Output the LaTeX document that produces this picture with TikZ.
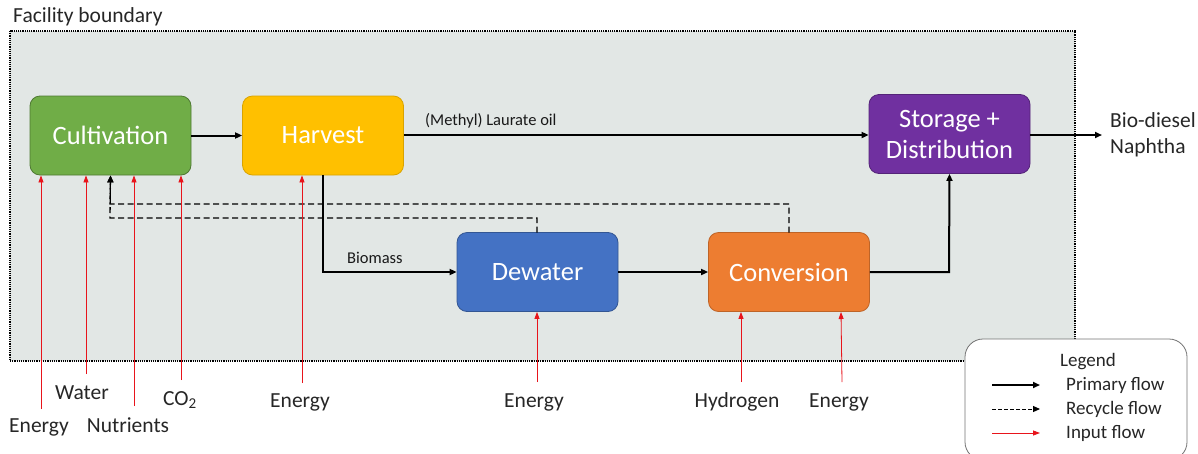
\documentclass[tikz,border=0pt]{standalone}
\usepackage{fontspec}
\setmainfont{Carlito}
\usetikzlibrary{arrows.meta}
\definecolor{bgfill}{HTML}{E2E7E5}
\definecolor{cgreen}{HTML}{70AD47}
\definecolor{cyellow}{HTML}{FFC000}
\definecolor{cpurple}{HTML}{7030A0}
\definecolor{cblue}{HTML}{4472C4}
\definecolor{corange}{HTML}{ED7D31}
\definecolor{inred}{HTML}{E8141B}
\tikzset{
  stage/.style={rectangle, rounded corners=10pt, minimum width=161pt, minimum height=79pt, text=white, font=\fontsize{26.5}{31}\selectfont, align=center, line width=0.8pt, inner sep=0pt},
  primary/.style={line width=2pt, -{Triangle[length=7pt,width=6pt]}},
  recycle/.style={line width=1.3pt, dash pattern=on 6pt off 3.5pt, -{Triangle[length=7pt,width=6pt]}},
  input/.style={line width=0.8pt, draw=inred, -{Triangle[length=7pt,width=5pt]}},
  lbl/.style={font=\fontsize{21.5}{26}\selectfont, inner sep=0pt, text=black!85},
  leg/.style={font=\fontsize{19}{22}\selectfont, inner sep=0pt, text=black!85},
  small/.style={font=\fontsize{16.5}{18}\selectfont, inner sep=0pt, text=black!90},
}
\begin{document}
\begin{tikzpicture}[x=1pt,y=-1pt]
\useasboundingbox (0,0) rectangle (1198,453);
% facility boundary
\draw[fill=bgfill, line width=1.2pt, densely dotted] (10,31) rectangle (1075,361);
\node[lbl, anchor=west] (fb) at (13,17) {Facility boundary};
% stages
\node[stage, fill=cgreen, draw=cgreen!70!black] (cult) at (110.5,135.5) {Cultivation};
\node[stage, fill=cyellow, draw=cyellow!85!black] (harv) at (323,135.5) {Harvest};
\node[stage, fill=cpurple, draw=cpurple!75!black] (stor) at (949.5,134) {Storage +\\Distribution};
\node[stage, fill=cblue, draw=cblue!75!black] (dew) at (537.5,272) {Dewater};
\node[stage, fill=corange, draw=corange!80!black] (conv) at (789,272) {Conversion};
% primary flows
\draw[primary] (cult.east) -- (harv.west);
\draw[primary] (harv.east |- 0,135) -- (stor.west |- 0,135);
\node[small, anchor=west] (lau) at (425,121) {(Methyl) Laurate oil};
\coordinate (out) at (1102,135);
\draw[primary] (stor.east |- out) -- (out);
\node[lbl, anchor=west, align=left] (prod) at (1110,135) {Bio-diesel\\Naphtha};
\draw[primary] (harv.south) -- (323,272) -- (dew.west);
\node[small, anchor=west] (bio) at (347,258) {Biomass};
\draw[primary] (dew.east) -- (conv.west);
\draw[primary] (conv.east) -- (949,272) -- (stor.south);
% recycle flows
\coordinate (rjoin) at (110,218);
\draw[recycle] (537,232.5) -- (537,218) -- (rjoin) -- (cult.south);
\draw[recycle] (789,232.5) -- (789,204) -- (110,204) -- (cult.south);
% inputs
\coordinate (i1) at (41,409);
\coordinate (i2) at (86,374);
\coordinate (i3) at (134,406);
\coordinate (i4) at (181,380);
\coordinate (i5) at (302,383);
\coordinate (i6) at (537,382);
\coordinate (i7) at (741,382);
\coordinate (i8) at (842,382);
\draw[input] (i1) -- (i1 |- cult.south);
\draw[input] (i2) -- (i2 |- cult.south);
\draw[input] (i3) -- (i3 |- cult.south);
\draw[input] (i4) -- (i4 |- cult.south);
\draw[input] (i5) -- (i5 |- harv.south);
\draw[input] (i6) -- (i6 |- dew.south);
\draw[input] (i7) -- (i7 |- conv.south);
\draw[input] (i8) -- (841,312);
\node[lbl] (l1) at (39,427) {Energy};
\node[lbl] (l2) at (82,393) {Water};
\node[lbl] (l3) at (128,425) {Nutrients};
\node[lbl] (l4) at (180,400) {CO\textsubscript{2}};
\node[lbl] (l5) at (300,402) {Energy};
\node[lbl] (l6) at (534,402) {Energy};
\node[lbl] (l7) at (737,402) {Hydrogen};
\node[lbl] (l8) at (839,402) {Energy};
% legend
\draw[line width=0.8pt, draw=black!55, fill=white, rounded corners=18pt] (965,339) rectangle (1187,460);
\node[leg] (lg) at (1088,362) {Legend};
\coordinate (a1) at (992,385); \coordinate (b1) at (1040,385);
\coordinate (a2) at (992,409); \coordinate (b2) at (1040,409);
\coordinate (a3) at (992,433); \coordinate (b3) at (1040,433);
\draw[primary] (a1) -- (b1);
\draw[recycle, line width=1pt, dash pattern=on 4pt off 2pt] (a2) -- (b2);
\draw[input] (a3) -- (b3);
\node[leg, anchor=west] (t1) at (1066,385) {Primary flow};
\node[leg, anchor=west] (t2) at (1066,409) {Recycle flow};
\node[leg, anchor=west] (t3) at (1066,433) {Input flow};
\end{tikzpicture}
\end{document}
